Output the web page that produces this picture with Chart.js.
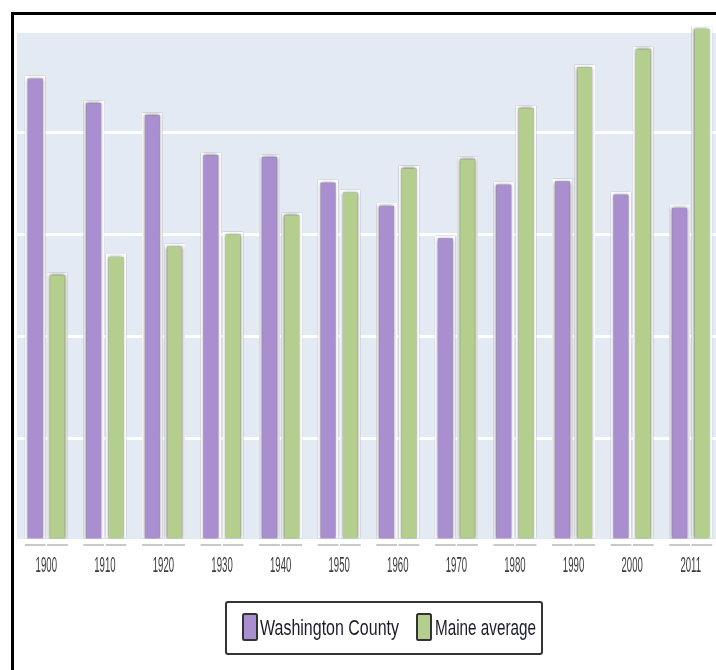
<!DOCTYPE html>
<html>
<head>
<meta charset="utf-8">
<script src="https://cdn.jsdelivr.net/npm/chart.js@4.4.1/dist/chart.umd.min.js"></script>
<style>
  html, body { margin: 0; padding: 0; background: #fff; overflow: hidden; }
  #wrap { position: relative; width: 716px; height: 670px; overflow: hidden; }
  #frame { position: absolute; left: 11px; top: 12px; width: 900px; height: 900px;
           border-left: 3px solid #000; border-top: 3px solid #000; box-sizing: border-box; }
  #c { position: absolute; left: 0; top: 0; z-index: 1; }
</style>
</head>
<body>
<div id="wrap">
<div id="frame"></div>
<canvas id="c" width="724" height="670"></canvas>
</div>
<script>
// ---- data ----
const years = ['1900','1910','1920','1930','1940','1950','1960','1970','1980','1990','2000','2011'];
const washingtonCounty = [45600, 43200, 42000, 38100, 37900, 35400, 33100, 29900, 35200, 35500, 34200, 32900];
const maineAverage     = [26300, 28100, 29100, 30300, 32200, 34400, 36800, 37700, 42700, 46700, 48500, 50500];
const seriesNames = ['Washington County', 'Maine average'];
const yTicks = [0, 10000, 20000, 30000, 40000, 50000];

const PURPLE = '#aa8fd0';
const GREEN = '#b3ce8d';
const FONT = '"Liberation Sans", Arial, sans-serif';

const plotBg = {
  id: 'plotBg',
  beforeDraw(chart) {
    const { ctx, chartArea: a } = chart;
    ctx.save();
    ctx.fillStyle = '#e4eaf4';
    ctx.fillRect(a.left, a.top, a.right - a.left, a.bottom - a.top + 1);
    ctx.restore();
  }
};

const barShadow = {
  id: 'barShadow',
  beforeDatasetsDraw(chart) {
    const ctx = chart.ctx;
    ctx.save();
    ctx.shadowColor = 'rgba(40,40,50,0.75)';
    ctx.shadowBlur = 3.5;
  },
  afterDatasetsDraw(chart) {
    const ctx = chart.ctx;
    ctx.restore();
    // faint reflection lines under each bar
    ctx.save();
    ctx.fillStyle = '#c8c8c8';
    chart.data.datasets.forEach((ds, di) => {
      chart.getDatasetMeta(di).data.forEach(el => {
        const p = el.getProps(['x', 'width', 'base'], true);
        ctx.fillRect(p.x - p.width / 2, p.base + 5.5, p.width, 2);
      });
    });
    ctx.restore();
  }
};

const stretchedLabels = {
  id: 'stretchedLabels',
  afterDraw(chart) {
    const { ctx } = chart;
    const xs = chart.scales.x;
    // x tick labels
    ctx.save();
    ctx.font = '12px ' + FONT;
    ctx.fillStyle = '#3c3c3c';
    ctx.textAlign = 'center';
    ctx.textBaseline = 'alphabetic';
    chart.data.labels.forEach((lab, i) => {
      const x = xs.getPixelForValue(i);
      ctx.save();
      ctx.translate(x, chart.chartArea.bottom + 31.5);
      ctx.scale(0.8, 1.85);
      ctx.fillText(lab, 0, 0);
      ctx.restore();
    });
    ctx.restore();

    // legend box
    ctx.save();
    ctx.strokeStyle = '#333';
    ctx.lineWidth = 2;
    ctx.beginPath();
    ctx.roundRect(226, 602, 316, 52, 2);
    ctx.stroke();
    const markerX = [243, 417];
    const textX = [260, 435];
    const textW = [139, 101];
    chart.data.datasets.forEach((ds, i) => {
      ctx.fillStyle = ds.backgroundColor;
      ctx.beginPath();
      ctx.roundRect(markerX[i], 614, 14, 26, 1.5);
      ctx.fill();
      ctx.strokeStyle = '#333';
      ctx.lineWidth = 2;
      ctx.stroke();
      ctx.save();
      ctx.font = '19px ' + FONT;
      const w = ctx.measureText(ds.label).width;
      ctx.translate(textX[i], 635);
      ctx.scale(textW[i] / w, 1.2);
      ctx.fillStyle = '#1c1c2c';
      ctx.textAlign = 'left';
      ctx.fillText(ds.label, 0, 0);
      ctx.restore();
    });
    ctx.restore();
  }
};

new Chart(document.getElementById('c'), {
  type: 'bar',
  data: {
    labels: years,
    datasets: [
      { label: seriesNames[0], data: washingtonCounty, backgroundColor: PURPLE,
        borderColor: '#ffffff', borderWidth: 3, borderSkipped: 'bottom', clip: false },
      { label: seriesNames[1], data: maineAverage, backgroundColor: GREEN,
        borderColor: '#ffffff', borderWidth: 3, borderSkipped: 'bottom', clip: false }
    ]
  },
  options: {
    responsive: false,
    animation: false,
    devicePixelRatio: 1,
    layout: { padding: { left: 17, top: 31, right: 4, bottom: 130 } },
    categoryPercentage: 0.76,
    barPercentage: 0.93,
    plugins: { legend: { display: false }, tooltip: { enabled: false } },
    scales: {
      x: {
        grid: { display: false },
        border: { display: false },
        ticks: { display: false },
        afterFit(s) { s.height = 0; }
      },
      y: {
        min: 0, max: 50000,
        afterBuildTicks(s) { s.ticks = yTicks.map(v => ({ value: v })); },
        grid: { color: '#ffffff', lineWidth: 3, drawTicks: false },
        border: { display: false },
        ticks: { display: false },
        afterFit(s) { s.width = 0; }
      }
    }
  },
  plugins: [plotBg, barShadow, stretchedLabels]
});
</script>
</body>
</html>
